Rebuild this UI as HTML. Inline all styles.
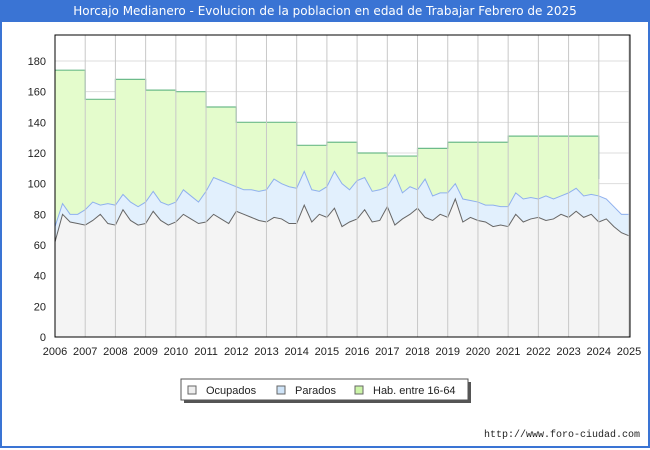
<!DOCTYPE html>
<html><head><meta charset="utf-8"><style>
body{margin:0;width:650px;height:450px;overflow:hidden;background:#fff;font-family:"Liberation Sans","DejaVu Sans",sans-serif}
#wrap{position:absolute;left:0;top:0;width:646px;height:446px;border:2px solid #3a74d4;border-top:none}
#title{position:absolute;left:0;top:0;width:650px;height:22px;background:#3a74d4;color:#fff;font-size:12px;line-height:22px;text-align:center;font-family:"DejaVu Sans",sans-serif}
</style></head><body>
<div id="wrap"></div>
<div id="title">Horcajo Medianero - Evolucion de la poblacion en edad de Trabajar Febrero de 2025</div>
<svg id="chart" width="650" height="450" style="position:absolute;left:0;top:0"></svg>
<script>
const years=[2006,2007,2008,2009,2010,2011,2012,2013,2014,2015,2016,2017,2018,2019,2020,2021,2022,2023,2024,2025];
const yTicks=[0,20,40,60,80,100,120,140,160,180];
const habYears=[2006,2007,2008,2009,2010,2011,2012,2013,2014,2015,2016,2017,2018,2019,2020,2021,2022,2023];
const habValues=[174,155,168,161,160,150,140,140,125,127,120,118,123,127,127,131,131,131];
const habLast=103;
const ocupados=[62,80,75,74,73,76,80,74,73,83,76,73,74,82,76,73,75,80,77,74,75,80,77,74,82,80,78,76,75,78,77,74,74,86,75,80,78,84,72,75,77,83,75,76,85,73,77,80,84,78,76,80,78,90,75,78,76,75,72,73,72,80,75,77,78,76,77,80,78,82,78,80,75,77,72,68,66];
const parados=[72,87,80,80,83,88,86,87,86,93,88,85,88,95,88,86,88,96,92,88,95,104,102,100,98,96,96,95,96,103,100,98,97,108,96,95,98,108,100,96,102,104,95,96,98,106,94,98,96,103,92,94,94,100,90,89,88,86,86,85,85,94,90,91,90,92,90,92,94,97,92,93,92,90,85,80,80];
const NS="http://www.w3.org/2000/svg";
const svg=document.getElementById('chart');
const L=55,R=629,T=35,B=337;
const x=t=>L+(t-2006)/19*(R-L);
const y=v=>B-v*(B-61)/180;
function mk(tag,attrs,parent){const e=document.createElementNS(NS,tag);for(const k in attrs)e.setAttribute(k,attrs[k]);(parent||svg).appendChild(e);return e;}
yTicks.forEach(v=>{
 const l=mk('line',{x1:L,x2:R,y1:y(v),y2:y(v),stroke:'#ddd','stroke-width':1});
 
 
 const t=mk('text',{x:46,y:y(v)+4,'text-anchor':'end','font-size':11,fill:'#222'});
 t.textContent=v;
 
 
});
let hp=`M${x(2006)},${y(0)}`;
habYears.forEach((yr,i)=>{hp+=` L${x(yr)},${y(habValues[i])} L${x(yr+1)},${y(habValues[i])}`;});
hp+=` L${x(2024)},${y(habLast)} L${x(2024)},${y(0)} Z`;
const ha=mk('path',{d:hp,fill:'#e4fccc',stroke:'none'});


let hl=`M${x(2006)},${y(habValues[0])}`;
habYears.forEach((yr,i)=>{hl+=` L${x(yr)},${y(habValues[i])} L${x(yr+1)},${y(habValues[i])}`;});
hl+=` L${x(2024)},${y(habLast)}`;
const hline=mk('path',{d:hl,fill:'none',stroke:'#6dbb8a','stroke-width':1.2});


const tx=i=>x(2006+i/4);
function series(arr,fill,stroke,name){
 let p=`M${tx(0)},${y(0)}`;arr.forEach((v,i)=>p+=` L${tx(i)},${y(v)}`);p+=` L${tx(arr.length-1)},${y(0)} Z`;
 const a=mk('path',{d:p,fill:fill});
 
 
 let q='';arr.forEach((v,i)=>q+=(i?' L':'M')+tx(i)+','+y(v));
 const l=mk('path',{d:q,fill:'none',stroke:stroke,'stroke-width':1});
 
 
}
series(parados,'#e2f0fd','#8fb0ee','parados');
series(ocupados,'#f4f4f4','#666','ocupados');
years.forEach(yr=>{
 const l=mk('line',{x1:x(yr),x2:x(yr),y1:T,y2:B,stroke:'#c8c8c8','stroke-width':1});
 
 
 const t=mk('text',{x:x(yr),y:355,'text-anchor':'middle','font-size':11,fill:'#222'});
 t.textContent=yr;
 
 
});
const fr=mk('rect',{x:L,y:T,width:R-L+1,height:B-T,fill:'none',stroke:'#000','stroke-width':1});


const lg=mk('g',{});


mk('rect',{x:184,y:382,width:287,height:21,fill:'#555'},lg);
mk('rect',{x:181,y:379,width:287,height:21,fill:'#fff',stroke:'#555'},lg);
[['Ocupados','#eee',188],['Parados','#cfe4f8',277],['Hab. entre 16-64','#ccf5a8',355]].forEach(e=>{
 const g=mk('g',{},lg);
 
 
 mk('rect',{x:e[2],y:386,width:8,height:8,fill:e[1],stroke:'#666'},g);
 const t=mk('text',{x:e[2]+18,y:394,'font-size':11,fill:'#222'},g);t.textContent=e[0];
});
const u=mk('text',{x:640,y:437,'text-anchor':'end','font-size':10,fill:'#222','font-family':'Liberation Mono, monospace'});
u.textContent='http://www.foro-ciudad.com';


</script>
</body></html>
